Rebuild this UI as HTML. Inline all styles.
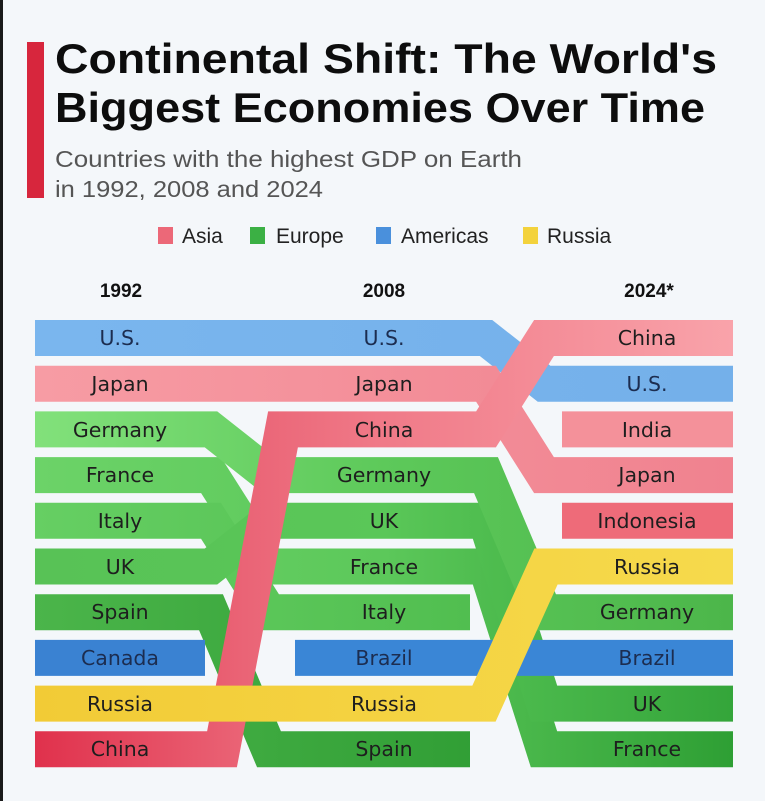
<!DOCTYPE html>
<html><head><meta charset="utf-8"><style>
html,body{margin:0;padding:0;background:#f4f7fa;}
svg{display:block;}
</style></head><body>
<svg width="765" height="801" viewBox="0 0 765 801" xmlns="http://www.w3.org/2000/svg">
<defs>
<linearGradient id="gUS" gradientUnits="userSpaceOnUse" x1="35" x2="733" y1="0" y2="0"><stop offset="0" stop-color="#7ab6ee"/><stop offset="1" stop-color="#74b0ea"/></linearGradient>
<linearGradient id="gJP" gradientUnits="userSpaceOnUse" x1="35" x2="733" y1="0" y2="0"><stop offset="0" stop-color="#f79ca4"/><stop offset="1" stop-color="#f0828f"/></linearGradient>
<linearGradient id="gCN" gradientUnits="userSpaceOnUse" x1="35" x2="733" y1="0" y2="0"><stop offset="0" stop-color="#e0314c"/><stop offset="0.3" stop-color="#ea6476"/><stop offset="0.5" stop-color="#f07a88"/><stop offset="1" stop-color="#f9a3aa"/></linearGradient>
<linearGradient id="gDE" gradientUnits="userSpaceOnUse" x1="35" x2="733" y1="0" y2="0"><stop offset="0" stop-color="#82e17b"/><stop offset="0.5" stop-color="#5dc95a"/><stop offset="1" stop-color="#4cb64a"/></linearGradient>
<linearGradient id="gFR" gradientUnits="userSpaceOnUse" x1="35" x2="733" y1="0" y2="0"><stop offset="0" stop-color="#6cd368"/><stop offset="0.5" stop-color="#5cc85a"/><stop offset="1" stop-color="#2e9f34"/></linearGradient>
<linearGradient id="gIT" gradientUnits="userSpaceOnUse" x1="35" x2="733" y1="0" y2="0"><stop offset="0" stop-color="#66cf63"/><stop offset="1" stop-color="#44b444"/></linearGradient>
<linearGradient id="gUK" gradientUnits="userSpaceOnUse" x1="35" x2="733" y1="0" y2="0"><stop offset="0" stop-color="#58c256"/><stop offset="0.5" stop-color="#5ac758"/><stop offset="1" stop-color="#34a53a"/></linearGradient>
<linearGradient id="gES" gradientUnits="userSpaceOnUse" x1="35" x2="733" y1="0" y2="0"><stop offset="0" stop-color="#4bb54a"/><stop offset="0.7" stop-color="#2e9c33"/><stop offset="1" stop-color="#2e9c33"/></linearGradient>
<linearGradient id="gRU" gradientUnits="userSpaceOnUse" x1="35" x2="733" y1="0" y2="0"><stop offset="0" stop-color="#f2cb36"/><stop offset="1" stop-color="#f6da4c"/></linearGradient>
</defs>
<rect x="0" y="0" width="3" height="801" fill="#1a1a1a"/>
<rect x="27" y="42" width="17" height="156" fill="#d7263d"/>
<g font-family="Liberation Sans, sans-serif">
<text x="55" y="73" font-size="42" font-weight="bold" fill="#0d0d0d" textLength="662" lengthAdjust="spacingAndGlyphs">Continental Shift: The World's</text>
<text x="55" y="122" font-size="42" font-weight="bold" fill="#0d0d0d" textLength="650" lengthAdjust="spacingAndGlyphs">Biggest Economies Over Time</text>
<text x="55" y="167" font-size="23" fill="#555" textLength="467" lengthAdjust="spacingAndGlyphs">Countries with the highest GDP on Earth</text>
<text x="55" y="197" font-size="23" fill="#555" textLength="268" lengthAdjust="spacingAndGlyphs">in 1992, 2008 and 2024</text>
<rect x="158" y="227" width="15" height="17" fill="#ec6878"/>
<text x="182" y="243" font-size="21" fill="#222">Asia</text>
<rect x="250" y="227" width="15" height="17" fill="#3bb044"/>
<text x="276" y="243" font-size="21" fill="#222">Europe</text>
<rect x="376" y="227" width="15" height="17" fill="#4a90dc"/>
<text x="401" y="243" font-size="21" fill="#222">Americas</text>
<rect x="523" y="227" width="15" height="17" fill="#f3d23c"/>
<text x="547" y="243" font-size="21" fill="#222">Russia</text>
<g font-size="19" font-weight="bold" fill="#111" text-anchor="middle">
<text x="121" y="297">1992</text><text x="384" y="297">2008</text><text x="649" y="297">2024*</text>
</g>
</g>
<g fill="none" stroke-width="36" stroke-linejoin="miter" stroke-miterlimit="20" stroke-linecap="butt">
<polyline stroke="url(#gES)" points="35,612.2 211,612.2 269,749.3 470,749.3"/>
<polyline stroke="url(#gFR)" points="35,475.1 211,475.1 269,566.5 486,566.5 544,749.3 733,749.3"/>
<polyline stroke="url(#gIT)" points="35,520.8 211,520.8 269,612.2 470,612.2"/>
<polyline stroke="url(#gUK)" points="35,566.5 211,566.5 269,520.8 486,520.8 544,703.6 733,703.6"/>
<polyline stroke="url(#gDE)" points="35,429.4 211,429.4 269,475.1 486,475.1 544,612.2 733,612.2"/>
<line x1="35" y1="657.9" x2="205" y2="657.9" stroke="#3a82d2"/>
<line x1="295" y1="657.9" x2="733" y2="657.9" stroke="#3a86d6"/>
<polyline stroke="url(#gUS)" points="35,338 486,338 544,383.7 733,383.7"/>
<line x1="562" y1="429.4" x2="733" y2="429.4" stroke="#f4919a"/>
<line x1="562" y1="520.8" x2="733" y2="520.8" stroke="#ee6b79"/>
<polyline stroke="url(#gJP)" points="35,383.7 486,383.7 544,475.1 733,475.1"/>
<polyline stroke="url(#gCN)" points="35,749.3 222,749.3 283,429.4 486,429.4 544,338 733,338"/>
<polyline stroke="url(#gRU)" points="35,703.6 484,703.6 546,566.5 733,566.5"/>
</g>
<g font-family="DejaVu Sans, sans-serif" font-size="20.5" text-anchor="middle" fill="#1e1e1e">
<text x="120" y="345" fill="#1c2d50">U.S.</text><text x="384" y="345" fill="#1c2d50">U.S.</text><text x="647" y="345">China</text>
<text x="120" y="391">Japan</text><text x="384" y="391">Japan</text><text x="647" y="391" fill="#1c2d50">U.S.</text>
<text x="120" y="437">Germany</text><text x="384" y="437">China</text><text x="647" y="437">India</text>
<text x="120" y="482">France</text><text x="384" y="482">Germany</text><text x="647" y="482">Japan</text>
<text x="120" y="528">Italy</text><text x="384" y="528">UK</text><text x="647" y="528">Indonesia</text>
<text x="120" y="574">UK</text><text x="384" y="574">France</text><text x="647" y="574">Russia</text>
<text x="120" y="619">Spain</text><text x="384" y="619">Italy</text><text x="647" y="619">Germany</text>
<text x="120" y="665" fill="#1c2d50">Canada</text><text x="384" y="665" fill="#1c2d50">Brazil</text><text x="647" y="665" fill="#1c2d50">Brazil</text>
<text x="120" y="711">Russia</text><text x="384" y="711">Russia</text><text x="647" y="711">UK</text>
<text x="120" y="756">China</text><text x="384" y="756">Spain</text><text x="647" y="756">France</text>
</g>
</svg>
</body></html>
